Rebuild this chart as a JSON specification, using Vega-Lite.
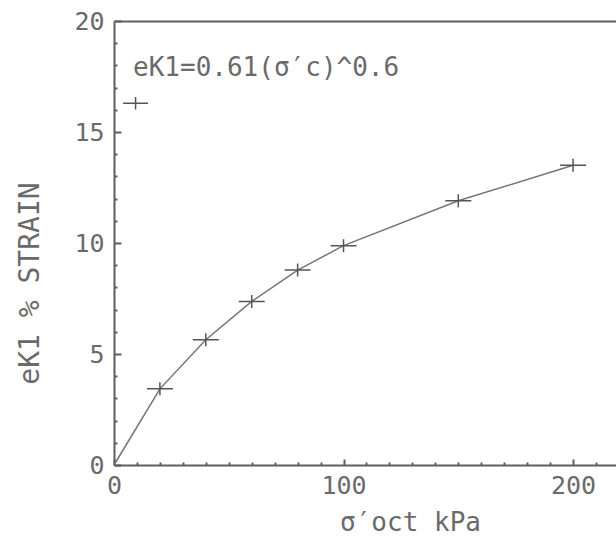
{
  "$schema": "https://vega.github.io/schema/vega-lite/v6.json",
  "width": 502,
  "height": 444,
  "autosize": {"type": "none"},
  "padding": {"left": 114, "top": 21, "right": 0, "bottom": 82},
  "background": "white",
  "config": {
    "view": {"stroke": null},
    "axis": {
      "grid": false,
      "labelFont": "DejaVu Sans Mono",
      "titleFont": "DejaVu Sans Mono",
      "labelColor": "#6a6a6a",
      "titleColor": "#6a6a6a",
      "titleFontWeight": "normal",
      "domainColor": "#5e5e5e",
      "domainWidth": 2,
      "tickColor": "#5e5e5e",
      "tickWidth": 2,
      "labelFlush": false,
      "labelOverlap": false
    }
  },
  "datasets": {
    "curve": [
      {"x": 0, "y": 0},
      {"x": 20, "y": 3.43},
      {"x": 40, "y": 5.64},
      {"x": 60, "y": 7.37},
      {"x": 80, "y": 8.78},
      {"x": 100, "y": 9.88},
      {"x": 150, "y": 11.9},
      {"x": 200, "y": 13.5}
    ],
    "key": [{"x": 9.4, "y": 16.3}],
    "note": [{"x": 8.3, "y": 17.9, "label": "eK1=0.61(σ′c)^0.6"}]
  },
  "layer": [
    {
      "data": {"name": "curve"},
      "mark": {"type": "line", "color": "#747474", "strokeWidth": 1.5},
      "encoding": {
        "x": {
          "field": "x", "type": "quantitative",
          "scale": {"domain": [0, 218.7], "nice": false, "zero": false},
          "axis": {
            "orient": "bottom",
            "values": [0, 100, 200],
            "tickSize": -6,
            "labelPadding": 14,
            "labelFontSize": 25,
            "title": "σ′oct kPa",
            "titleFontSize": 26,
            "titleX": 296,
            "titleY": 57,
            "titleAlign": "center",
            "titleBaseline": "middle"
          }
        },
        "y": {
          "field": "y", "type": "quantitative",
          "scale": {"domain": [0, 20], "nice": false},
          "axis": {
            "orient": "left",
            "values": [0, 5, 10, 15, 20],
            "tickSize": -7,
            "labelPadding": 17,
            "labelFontSize": 25,
            "labelBaseline": "middle",
            "title": "eK1 % STRAIN",
            "titleFontSize": 28,
            "titleAngle": 270,
            "titleX": -84,
            "titleY": 262,
            "titleAlign": "center",
            "titleBaseline": "middle"
          }
        }
      }
    },
    {
      "data": {"name": "curve"},
      "transform": [{"filter": "datum.x > 0"}],
      "mark": {"type": "point", "shape": "M-1,0H1M0,-0.5V0.5", "size": 676, "filled": false, "color": "#555555", "strokeWidth": 1.5, "opacity": 1},
      "encoding": {
        "x": {
          "field": "x", "type": "quantitative",
          "axis": {
            "orient": "bottom",
            "values": [10, 20, 30, 40, 50, 60, 70, 80, 90, 110, 120, 130, 140, 150, 160, 170, 180, 190, 210],
            "labels": false, "domain": false, "title": null, "tickSize": -3
          }
        },
        "y": {
          "field": "y", "type": "quantitative",
          "axis": {
            "orient": "left",
            "values": [1, 2, 3, 4, 6, 7, 8, 9, 11, 12, 13, 14, 16, 17, 18, 19],
            "labels": false, "domain": false, "title": null, "tickSize": -3
          }
        }
      }
    },
    {
      "data": {"name": "key"},
      "mark": {"type": "point", "shape": "M-1,0H1M0,-0.5V0.5", "size": 625, "filled": false, "color": "#555555", "strokeWidth": 1.5, "opacity": 1},
      "encoding": {
        "x": {
          "field": "x", "type": "quantitative",
          "axis": {"orient": "top", "ticks": false, "labels": false, "title": null, "domain": true}
        },
        "y": {"field": "y", "type": "quantitative", "axis": null}
      }
    },
    {
      "data": {"name": "note"},
      "mark": {"type": "text", "align": "left", "baseline": "middle", "font": "DejaVu Sans Mono", "fontSize": 26, "color": "#6a6a6a"},
      "encoding": {
        "x": {"field": "x", "type": "quantitative", "axis": null},
        "y": {"field": "y", "type": "quantitative", "axis": null},
        "text": {"field": "label"}
      }
    }
  ],
  "resolve": {"axis": {"x": "independent", "y": "independent"}}
}
